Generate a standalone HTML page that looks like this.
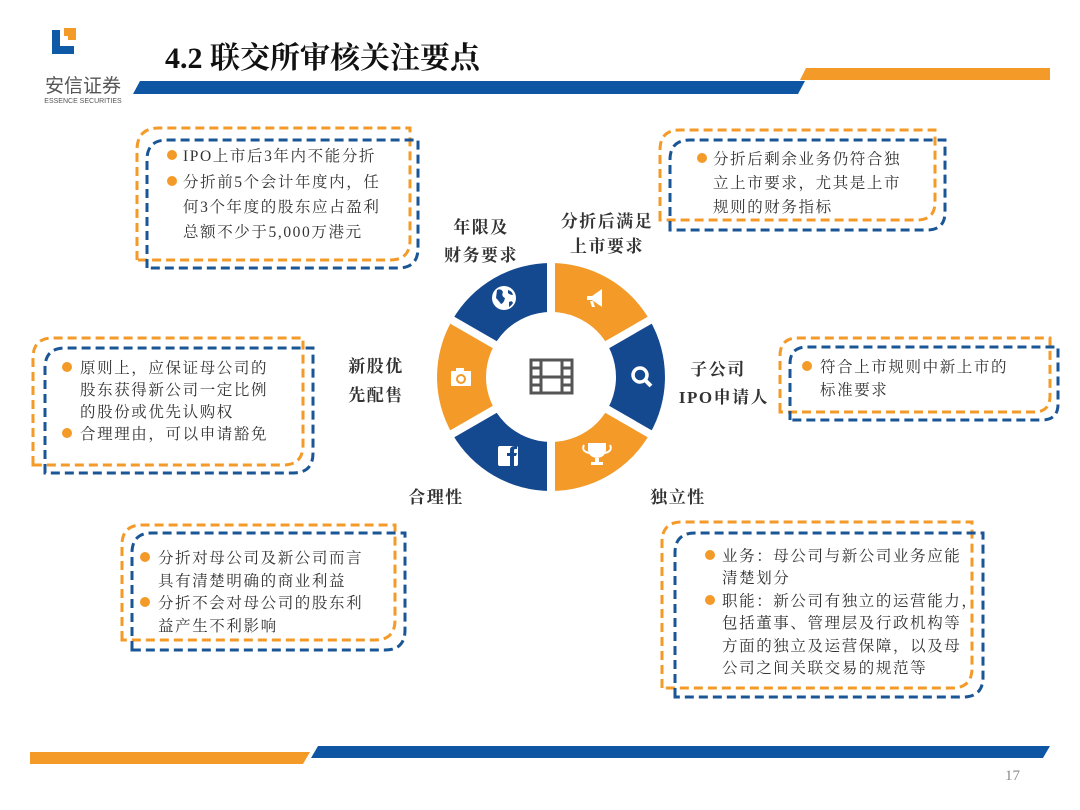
<!DOCTYPE html>
<html><head><meta charset="utf-8">
<style>
html,body{margin:0;padding:0;background:#fff;}
svg{display:block}
.t{font-family:"Liberation Serif","Noto Serif CJK SC",serif;fill:#333;font-size:15.5px;letter-spacing:1.6px}
.l{font-family:"Liberation Serif","Noto Serif CJK SC",serif;fill:#333;font-size:17px;font-weight:bold;letter-spacing:1.5px}
</style></head><body>
<svg width="1080" height="810" viewBox="0 0 1080 810" xmlns="http://www.w3.org/2000/svg">
<!-- logo -->
<rect x="52" y="30" width="8" height="24" fill="#0e5aa7"/>
<rect x="52" y="46" width="22" height="8" fill="#0e5aa7"/>
<rect x="64" y="28" width="12" height="12" fill="#f39a28"/>
<rect x="60" y="36" width="8" height="10" fill="#fff"/>
<text x="83" y="92" text-anchor="middle" font-family="Liberation Sans,Noto Sans CJK SC,sans-serif" font-size="19" fill="#555">安信证券</text>
<text x="83" y="103" text-anchor="middle" font-family="Liberation Sans,sans-serif" font-size="7" fill="#555">ESSENCE SECURITIES</text>
<!-- title -->
<text x="165" y="68" font-family="Liberation Serif,Noto Serif CJK SC,serif" font-size="30" font-weight="bold" fill="#111">4.2 联交所审核关注要点</text>
<polygon points="140,81 805,81 798,94 133,94" fill="#0e56a3"/>
<polygon points="806,68 1050,68 1050,80 800,80" fill="#f39a28"/>
<!-- bottom bars -->
<polygon points="30,752 310,752 303,764 30,764" fill="#f39a28"/>
<polygon points="318,746 1050,746 1043,758 311,758" fill="#0e56a3"/>
<text x="1005" y="780" font-family="Liberation Serif,serif" font-size="15" fill="#888">17</text>

<g fill="none" stroke-width="3" stroke-dasharray="9,5">
<!-- box1 -->
<path d="M137 260 V150 Q137 128 159 128 H410 V240 Q410 260 390 260 Z" stroke="#f39a28"/>
<path d="M147 268 V160 Q147 140 167 140 H418 V248 Q418 268 398 268 Z" stroke="#1a5596"/>
<!-- box2 -->
<path d="M660 220 V150 Q660 130 680 130 H935 V202 Q935 220 917 220 Z" stroke="#f39a28"/>
<path d="M670 230 V160 Q670 140 690 140 H945 V212 Q945 230 927 230 Z" stroke="#1a5596"/>
<!-- box3 -->
<path d="M33 465 V358 Q33 338 53 338 H303 V445 Q303 465 283 465 Z" stroke="#f39a28"/>
<path d="M45 473 V368 Q45 348 65 348 H313 V453 Q313 473 293 473 Z" stroke="#1a5596"/>
<!-- box4 -->
<path d="M780 412 V356 Q780 338 798 338 H1050 V396 Q1050 412 1034 412 Z" stroke="#f39a28"/>
<path d="M790 420 V364 Q790 347 807 347 H1058 V404 Q1058 420 1042 420 Z" stroke="#1a5596"/>
<!-- box5 -->
<path d="M122 640 V545 Q122 525 142 525 H395 V620 Q395 640 375 640 Z" stroke="#f39a28"/>
<path d="M132 650 V553 Q132 533 152 533 H405 V630 Q405 650 385 650 Z" stroke="#1a5596"/>
<!-- box6 -->
<path d="M662 688 V542 Q662 522 682 522 H972 V668 Q972 688 952 688 Z" stroke="#f39a28"/>
<path d="M675 697 V553 Q675 533 695 533 H983 V677 Q983 697 963 697 Z" stroke="#1a5596"/>
</g>

<g fill="#f39a28">
<circle cx="172" cy="155" r="5"/><circle cx="172" cy="181" r="5"/>
<circle cx="702" cy="158" r="5"/>
<circle cx="67" cy="367" r="5"/><circle cx="67" cy="433" r="5"/>
<circle cx="807" cy="366" r="5"/>
<circle cx="145" cy="557" r="5"/><circle cx="145" cy="602" r="5"/>
<circle cx="710" cy="555" r="5"/><circle cx="710" cy="600" r="5"/>
</g>

<g class="t">
<text x="183" y="161">IPO上市后3年内不能分折</text>
<text x="183" y="187">分折前5个会计年度内，任</text>
<text x="183" y="212">何3个年度的股东应占盈利</text>
<text x="183" y="237">总额不少于5,000万港元</text>

<text x="713" y="164">分折后剩余业务仍符合独</text>
<text x="713" y="188">立上市要求，尤其是上市</text>
<text x="713" y="212">规则的财务指标</text>

<text x="80" y="373">原则上，应保证母公司的</text>
<text x="80" y="395">股东获得新公司一定比例</text>
<text x="80" y="417">的股份或优先认购权</text>
<text x="80" y="439">合理理由，可以申请豁免</text>

<text x="820" y="372">符合上市规则中新上市的</text>
<text x="820" y="395">标准要求</text>

<text x="158" y="563">分折对母公司及新公司而言</text>
<text x="158" y="586">具有清楚明确的商业利益</text>
<text x="158" y="608">分折不会对母公司的股东利</text>
<text x="158" y="631">益产生不利影响</text>

<text x="722" y="561">业务：母公司与新公司业务应能</text>
<text x="722" y="583">清楚划分</text>
<text x="722" y="606">职能：新公司有独立的运营能力，</text>
<text x="722" y="628">包括董事、管理层及行政机构等</text>
<text x="722" y="651">方面的独立及运营保障，以及母</text>
<text x="722" y="673">公司之间关联交易的规范等</text>
</g>

<g class="l" text-anchor="middle">
<text x="481" y="233">年限及</text>
<text x="481" y="261">财务要求</text>
<text x="607" y="227">分折后满足</text>
<text x="607" y="252">上市要求</text>
<text x="376" y="372">新股优</text>
<text x="376" y="401">先配售</text>
<text x="718" y="375">子公司</text>
<text x="724" y="403">IPO申请人</text>
<text x="436" y="503">合理性</text>
<text x="678" y="503">独立性</text>
</g>

<!-- ring -->
<g>
<path d="M551 377 L551 263 A114 114 0 0 1 649.7 320 Z" fill="#f39a28"/>
<path d="M551 377 L649.7 320 A114 114 0 0 1 649.7 434 Z" fill="#14488f"/>
<path d="M551 377 L649.7 434 A114 114 0 0 1 551 491 Z" fill="#f39a28"/>
<path d="M551 377 L551 491 A114 114 0 0 1 452.3 434 Z" fill="#14488f"/>
<path d="M551 377 L452.3 434 A114 114 0 0 1 452.3 320 Z" fill="#f39a28"/>
<path d="M551 377 L452.3 320 A114 114 0 0 1 551 263 Z" fill="#14488f"/>
<g stroke="#fff" stroke-width="8">
<line x1="551" y1="377" x2="551" y2="255"/>
<line x1="551" y1="377" x2="551" y2="499"/>
<line x1="551" y1="377" x2="657" y2="316"/>
<line x1="551" y1="377" x2="657" y2="438"/>
<line x1="551" y1="377" x2="445" y2="316"/>
<line x1="551" y1="377" x2="445" y2="438"/>
</g>
<circle cx="551" cy="377" r="65" fill="#fff"/>
</g>
<!-- film icon -->
<g fill="none" stroke="#555" stroke-width="3">
<rect x="531" y="360" width="41" height="33"/>
<line x1="541" y1="360" x2="541" y2="393"/><line x1="562" y1="360" x2="562" y2="393"/>
<line x1="541" y1="377" x2="562" y2="377"/>
<line x1="531" y1="368" x2="541" y2="368"/><line x1="531" y1="377" x2="541" y2="377"/><line x1="531" y1="385" x2="541" y2="385"/>
<line x1="562" y1="368" x2="572" y2="368"/><line x1="562" y1="377" x2="572" y2="377"/><line x1="562" y1="385" x2="572" y2="385"/>
</g>
<!-- icons -->
<g fill="#fff">
<circle cx="504" cy="298" r="12"/>
<path d="M497 290 q4 -2 6 2 q-2 4 2 6 q-1 5 -4 6 q-3 -4 -5 -6 z M508 290 q4 1 5 5 q-3 0 -5 -2 z M509 302 q3 -2 4 1 q-2 3 -4 4 z" fill="#14488f"/>
<path d="M587 296 h5 l10 -7 v18 l-10 -7 h-5 z M590 301 l2 6 h3 l-2 -6 z"/>
<circle cx="640" cy="375" r="7" fill="none" stroke="#fff" stroke-width="3.5"/>
<line x1="645" y1="380" x2="651" y2="386" stroke="#fff" stroke-width="4"/>
<path d="M588 443 h18 v6 q0 8 -9 9 q-9 -1 -9 -9 z M595 458 h4 v4 h4 v3 h-12 v-3 h4 z"/>
<path d="M584 445 q-3 6 5 8 M610 445 q3 6 -5 8" fill="none" stroke="#fff" stroke-width="2"/>
<rect x="498" y="446" width="20" height="20" rx="2"/>
<path d="M510 466 v-10 h-3 v-3 h3 v-3 q0 -4 5 -4 h2 v3 h-2 q-1 0 -1 2 v2 h3 l-1 3 h-2 v10 z" fill="#14488f"/>
<rect x="451" y="371" width="20" height="15" rx="1"/>
<rect x="456" y="368" width="8" height="4"/>
<circle cx="461" cy="379" r="4" fill="none" stroke="#f39a28" stroke-width="2"/>
</g>
</svg>
</body></html>
